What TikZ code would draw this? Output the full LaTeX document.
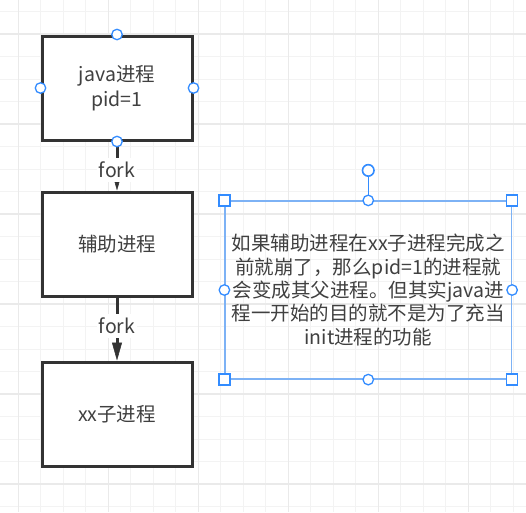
\documentclass[tikz,border=0pt]{standalone}
\usepackage{fontspec}
\setmainfont{Noto Sans CJK SC}
\usetikzlibrary{arrows.meta,positioning}

\definecolor{inkgray}{RGB}{51,51,51}
\definecolor{textgray}{RGB}{64,64,64}
\definecolor{selblue}{RGB}{51,140,255}
\definecolor{frameblue}{RGB}{125,178,245}
\definecolor{gridminor}{RGB}{243,243,243}
\definecolor{gridmajor}{RGB}{234,234,234}

\begin{document}
\begin{tikzpicture}[x=1pt, y=-1pt,
	procbox/.style={draw=inkgray, line width=3pt, fill=white, minimum width=150pt, minimum height=104pt, align=center, text=textgray, font=\fontsize{19.5}{25}\selectfont},
	notebox/.style={draw=frameblue, line width=1.2pt, minimum width=286.5pt, minimum height=178pt, align=center, text=textgray, font=\fontsize{19.5}{23.3}\selectfont},
	flow/.style={draw=inkgray, line width=3pt, -{Triangle[length=18pt,width=10pt,line width=0.5pt]}},
	forklabel/.style={fill=white, text=textgray, inner xsep=2pt, inner ysep=4pt, font=\fontsize{19.5}{23}\selectfont},
	hdot/.style={circle, draw=selblue, fill=white, line width=1.3pt, minimum size=10.5pt, inner sep=0pt},
	hsquare/.style={rectangle, draw=selblue, fill=white, line width=1.3pt, minimum size=11pt, inner sep=0pt}]

	% Canvas and grid
	\useasboundingbox [fill=white] (0,0) rectangle (526,512);
	\foreach \i in {1,...,23}
		\draw [gridminor, line width=1pt] ({-4.2+22.5*\i},0) -- ++(0,512);
	\foreach \j in {0,...,22}
		\draw [gridminor, line width=1pt] (0,{11.5+22.5*\j}) -- ++(526,0);
	\foreach \k in {0,...,5} {
		\draw [gridmajor, line width=1.3pt] ({18.3+90*\k},0) -- ++(0,512);
		\draw [gridmajor, line width=1.3pt] (0,{34+90*\k}) -- ++(526,0);
	}

	% Nodes {java, helper, child, note}
	\node [procbox] (java) at (117,88) {java进程\\pid=1};
	\node [procbox, below=49pt of java] (helper) {辅助进程};
	\node [procbox, below=63pt of helper] (child) {xx子进程};
	\node [notebox] (note) at (368.25,290) {如果辅助进程在xx子进程完成之\\前就崩了，那么pid=1的进程就\\会变成其父进程。但其实java进\\程一开始的目的就不是为了充当\\init进程的功能};

	% Paths
	\path [flow] (java) -- node [forklabel, pos=0.58] (fork1) {fork} (helper);
	\path [flow] (helper) -- node [forklabel, pos=0.45] (fork2) {fork} (child);

	% Selection handles
	\foreach \a in {north,south,east,west}
		\node [hdot] (java-\a) at (java.\a) {};
	\coordinate (rotate) at ([yshift=30pt]note.north);
	\draw [selblue, line width=1.3pt] (note.north) -- (rotate);
	\node [hdot, minimum size=11.5pt, line width=1.6pt] (note-rotate) at (rotate) {};
	\foreach \a in {north,south,east,west}
		\node [hdot] (note-\a) at (note.\a) {};
	\foreach \a in {north west,north east,south west,south east}
		\node [hsquare] (note-\a) at (note.\a) {};
\end{tikzpicture}
\end{document}
